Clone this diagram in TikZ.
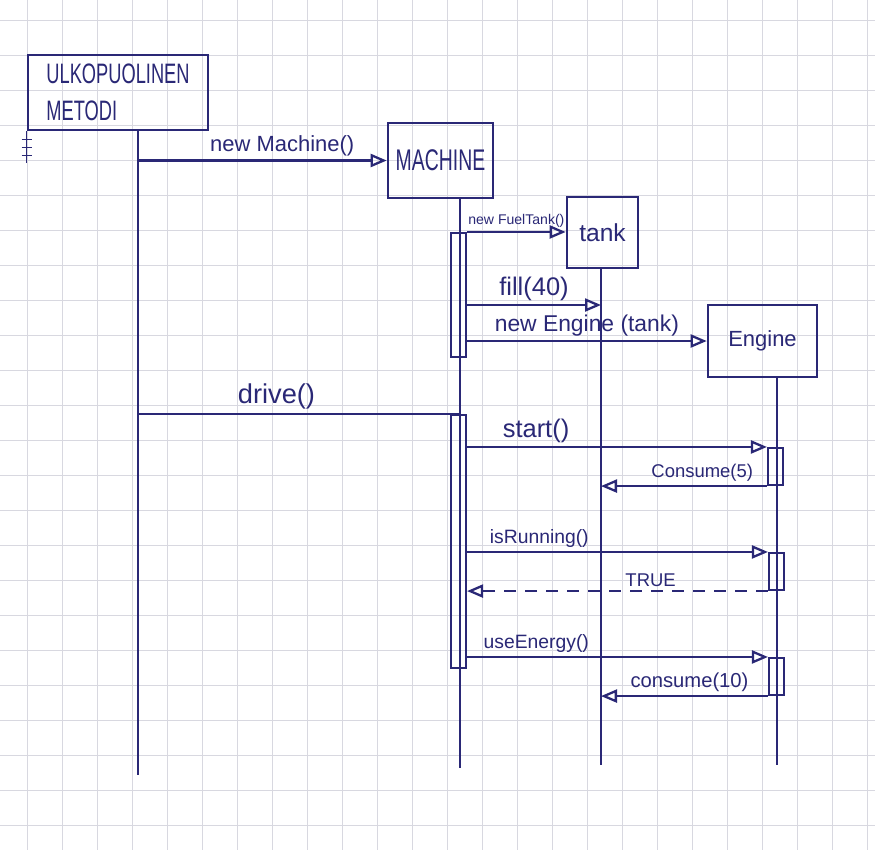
\documentclass[tikz,border=0pt]{standalone}
\usepackage{fontspec}
\setmainfont{Liberation Sans}
\newfontfamily\capsfont[FakeStretch=0.65]{Liberation Sans}
\usetikzlibrary{arrows.meta,positioning}
\definecolor{ink}{RGB}{42,40,118}
\definecolor{paper}{RGB}{216,216,224}

\begin{document}
\begin{tikzpicture}[
  x=0.02cm, y=-0.02cm,
  gridline/.style={draw=paper, line width=0.5pt},
  obj/.style={draw=ink, line width=1.5pt, text=ink, inner sep=2pt},
  act/.style={draw=ink, line width=1.2pt, minimum width=0.3cm, inner sep=0pt},
  life/.style={draw=ink, line width=1.3pt},
  lbl/.style={text=ink, inner sep=2pt, font=\fontsize{#1}{#1}\selectfont},
  lbl/.default=11,
  msg/.style={draw=ink, line width=1.3pt,
              -{Triangle[open, length=3.2mm, width=2.6mm, line width=1.3pt]}},
  reply/.style={msg, dash pattern=on 2.4mm off 1.8mm}
]
% paper
\fill[white] (0,0) rectangle (875,850);
\useasboundingbox (0,0) rectangle (875,850);
\foreach \gx in {27,62,...,867} \draw[gridline] (\gx,0) -- (\gx,850);
\foreach \gy in {20,55,...,845} \draw[gridline] (0,\gy) -- (875,\gy);

% objects
\node[obj, minimum width=3.6cm, minimum height=1.5cm, align=left,
      font=\capsfont\fontsize{16}{21}\selectfont] (ext) at (118,92.5) {ULKOPUOLINEN\\METODI};
\node[obj, minimum width=2.1cm, minimum height=1.5cm,
      font=\capsfont\fontsize{17}{20}\selectfont] (machine) at (440.5,160.5) {MACHINE};
\node[obj, minimum width=1.42cm, minimum height=1.42cm,
      font=\fontsize{14}{16}\selectfont] (tank) at (602.5,232.5) {tank};
\node[obj, minimum width=2.18cm, minimum height=1.44cm,
      font=\fontsize{12.5}{14}\selectfont] (engine) at (762.5,341) {Engine};

% lifelines
\coordinate (extEnd) at (138,775);
\coordinate (machineEnd) at (460,768);
\coordinate (tankEnd) at (601,765);
\coordinate (engineEnd) at (777,765);
\coordinate (fillRow) at (0,305);
\draw[life] (ext.south -| extEnd) -- (extEnd);
\draw[life] (machine.south -| machineEnd) -- (machineEnd);
\draw[life] (tank.south -| tankEnd) -- (tankEnd);
\draw[life] (engine.south -| engineEnd) -- (engineEnd);
\draw[life, line width=0.9pt] (ext.south west) -- ++(0,32)
  foreach \t in {8,16,24} {(ext.south west) ++(-5,\t) -- ++(10,0)};

% activations
\node[act, minimum height=2.48cm] (init) at (458.5,295) {};
\node[act, minimum height=5.06cm] (run) at (458.5,541.5) {};
\node[act, minimum height=0.74cm] (start) at (775.5,466.5) {};
\node[act, minimum height=0.74cm] (check) at (776.5,571.5) {};
\node[act, minimum height=0.74cm] (energy) at (776.5,676.5) {};

% messages
\path (extEnd |- machine.west) edge[msg] node[lbl=12.5, above, pos=0.58] {new Machine()} (machine.west)
      (init.north east) edge[msg] node[lbl=8, above] {new FuelTank()} (init.north east -| tank.west)
      (init.east |- fillRow) edge[msg] node[lbl=14.5, above] {fill(40)} (tankEnd |- fillRow)
      (init.east |- engine.west) edge[msg] node[lbl=13, above] {new Engine (tank)} (engine.west)
      (extEnd |- run.north) edge[life] node[lbl=15.5, above, pos=0.43] {drive()} (machineEnd |- run.north)
      (run.east |- start.north) edge[msg] node[lbl=14.5, above, pos=0.23] {start()} (start.north west)
      (start.south west) edge[msg] node[lbl=10.5, above, pos=0.39] {Consume(5)} (tankEnd |- start.south west)
      (run.east |- check.north) edge[msg] node[lbl=11, above, pos=0.24] {isRunning()} (check.north west)
      (check.south west) edge[reply] node[lbl=10.5, above, pos=0.39] {TRUE} (run.east |- check.south west)
      (run.east |- energy.north) edge[msg] node[lbl=11, above, pos=0.23] {useEnergy()} (energy.north west)
      (energy.south west) edge[msg] node[lbl=11.5, above, pos=0.47] {consume(10)} (tankEnd |- energy.south west);
\end{tikzpicture}
\end{document}
